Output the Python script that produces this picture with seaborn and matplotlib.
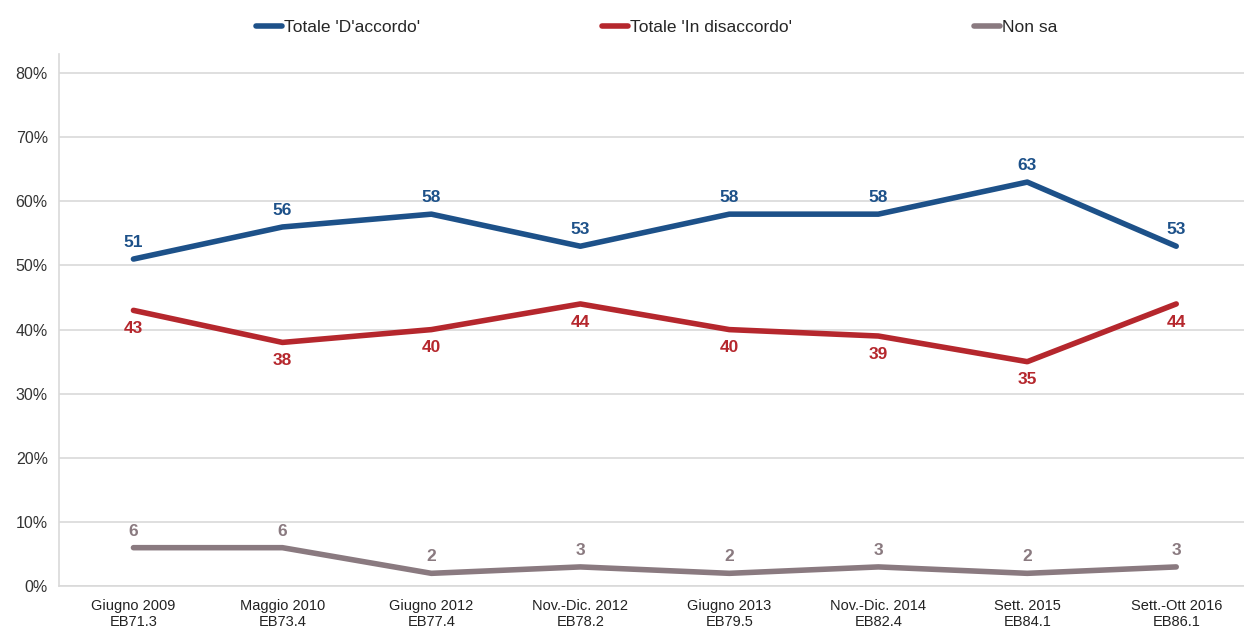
import numpy as np
import pandas as pd
import matplotlib
matplotlib.use("Agg")
import matplotlib.pyplot as plt
import seaborn as sns

# Data
periods = ["Giugno 2009\nEB71.3", "Maggio 2010\nEB73.4", "Giugno 2012\nEB77.4",
           "Nov.-Dic. 2012\nEB78.2", "Giugno 2013\nEB79.5", "Nov.-Dic. 2014\nEB82.4",
           "Sett. 2015\nEB84.1", "Sett.-Ott 2016\nEB86.1"]
accordo = [51, 56, 58, 53, 58, 58, 63, 53]
disaccordo = [43, 38, 40, 44, 40, 39, 35, 44]
non_sa = [6, 6, 2, 3, 2, 3, 2, 3]
series_names = ["Totale 'D'accordo'", "Totale 'In disaccordo'", "Non sa"]
colors = ["#1d5189", "#b5272d", "#8a7a80"]

df = pd.DataFrame({
    "x": list(range(len(periods))) * 3,
    "value": accordo + disaccordo + non_sa,
    "serie": [s for s in series_names for _ in periods],
})

sns.set_style("white")
plt.rcParams["font.family"] = ["Liberation Sans", "DejaVu Sans"]

fig = plt.figure(figsize=(12.44, 6.33), dpi=100)
ax = fig.add_axes([0.0474, 0.074, 0.958, 0.841])

sns.lineplot(data=df, x="x", y="value", hue="serie", palette=colors,
             hue_order=series_names, linewidth=4, ax=ax, legend=False,
             solid_capstyle="round")

# value labels
offsets = {series_names[0]: 12, series_names[1]: -13, series_names[2]: 12}
for name, vals, c in zip(series_names, [accordo, disaccordo, non_sa], colors):
    for i, v in enumerate(vals):
        ax.annotate(str(v), (i, v), xytext=(0, offsets[name]), textcoords="offset points",
                    ha="center", va="center", color=c, fontsize=12.5, fontweight="bold")

ax.set_xlim(-0.5, len(periods) - 0.5)
ax.set_ylim(0, 83)
ax.set_yticks(range(0, 81, 10))
ax.set_yticklabels([f"{v}%" for v in range(0, 81, 10)], fontsize=11.5, color="#333333")
ax.set_xticks(range(len(periods)))
ax.set_xticklabels(periods, fontsize=10.5, color="#222222")
ax.set_xticks(np.arange(-0.5, len(periods), 1), minor=True)
ax.tick_params(axis="x", which="major", length=0, pad=9)
ax.tick_params(axis="x", which="minor", length=5, color="#bfbfbf", width=1)
ax.tick_params(axis="y", length=0, pad=8)
ax.set_xlabel("")
ax.set_ylabel("")
ax.grid(axis="y", color="#d9d9d9", linewidth=1.2)
ax.set_axisbelow(True)
for s in ["top", "right"]:
    ax.spines[s].set_visible(False)
ax.spines["left"].set_color("#d9d9d9")
ax.spines["bottom"].set_color("#d9d9d9")
ax.spines["left"].set_linewidth(1.2)
ax.spines["bottom"].set_linewidth(1.2)

handles = [plt.Line2D([], [], color=c, linewidth=4, solid_capstyle="round") for c in colors]
fig.legend(handles, series_names, loc="upper center", bbox_to_anchor=(0.528, 0.993), ncol=3,
           frameon=False, fontsize=12.5, handlelength=1.5, handletextpad=0.1,
           columnspacing=10.5)

fig.savefig("out.png", dpi=100)
